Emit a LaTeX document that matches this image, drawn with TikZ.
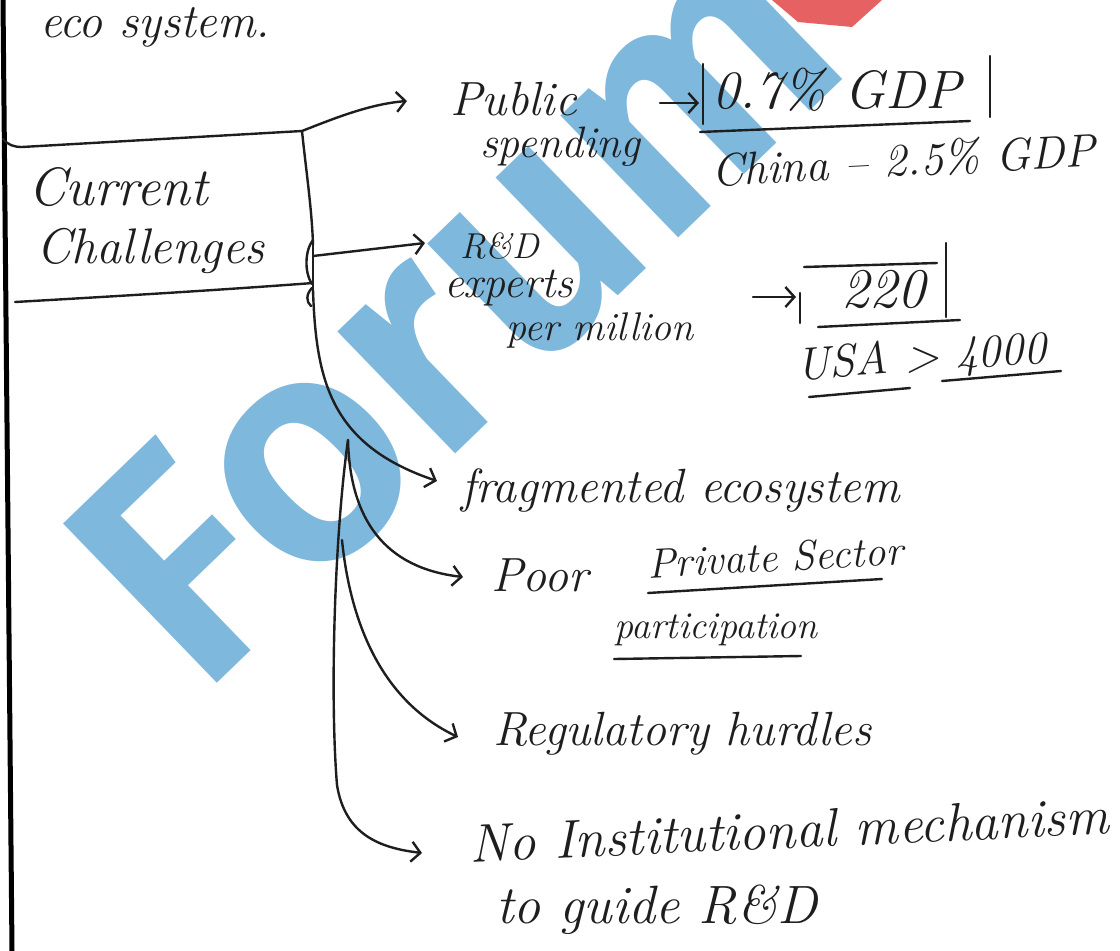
\documentclass[tikz,border=0pt]{standalone}
\usepackage{fontspec}
\newfontfamily\wmfont{Fira Sans}[UprightFont=* SemiBold]
\usetikzlibrary{arrows.meta}
\definecolor{wmblue}{RGB}{104,172,216}
\definecolor{wmred}{RGB}{226,70,70}
\definecolor{inkc}{RGB}{30,30,30}
\begin{document}
\begin{tikzpicture}[x=1pt,y=-1pt,
  ink/.style={draw=inkc, line width=2.4pt, line cap=round, line join=round},
  arr/.style={ink, -{Straight Barb[length=9pt,width=20pt]}},
  hw/.style={inner sep=0pt, outer sep=0pt, anchor=base west, text=inkc,
             font=\fontsize{#1}{#1}\selectfont\itshape},
  hw/.default=48,
  wm/.style={inner sep=0pt, anchor=base west, rotate=44, text=wmblue, text opacity=0.85,
             font=\wmfont\fontsize{320}{320}\selectfont}]
\useasboundingbox (0,0) rectangle (1120,951);
\fill[white] (0,0) rectangle (1120,951);

% watermark
\node[wm] (wmark) at (200,700) {Forum};
\fill[wmred, opacity=0.85] (772,0) -- (882,0) -- (852,27) -- (798,22) -- cycle;

% margin line
\draw[line width=5pt, black] (3,0) -- (12,951);

% heading
\node[hw] (eco) at (40,37) {eco system.};

% box
\node[hw=54] (cur) at (28,205) {Current};
\node[hw=50] (chal) at (36,263) {Challenges};
\coordinate (J0) at (302,131);
\coordinate (J1) at (313,245);
\coordinate (J2) at (313,290);
\coordinate (JB) at (348,440);
\draw[ink] (3,139) .. controls (8,145) and (14,147) .. (22,147) -- (J0);
\draw[ink] (15,302) .. controls (120,296) and (220,290) .. (313,283);

% spine
\draw[ink] (J0) .. controls (306,170) and (312,210) .. (J1);
\draw[ink] (313,240) .. controls (305,250) and (304,272) .. (312,284);
\draw[ink] (312,288) .. controls (306,294) and (306,302) .. (311,306);
\draw[ink] (J1) -- (J2);

% arrow tips
\coordinate (tPub) at (407,101);
\coordinate (tRD) at (425,243);
\coordinate (tFrag) at (437,481);
\coordinate (tPoor) at (463,577);
\coordinate (tReg) at (458,737);
\coordinate (tNo) at (422,853);

\draw[arr] (J0) .. controls (335,118) and (370,104) .. (tPub);
\draw[arr] (313,256) -- (tRD);
\draw[arr] (J2) .. controls (316,380) and (330,445) .. (tFrag);
\draw[arr] (JB) .. controls (350,520) and (385,568) .. (tPoor);
\draw[arr] (JB) .. controls (334,540) and (330,700) .. (337,785)
               .. controls (345,835) and (380,848) .. (tNo);
\draw[arr] (342,540) .. controls (350,620) and (380,700) .. (tReg);

% public spending
\node[hw] (pub) at (450,115) {Public};
\node[hw=44] (spend) at (480,157) {spending};
\coordinate (a1s) at (660,103);
\coordinate (a1e) at (699,103);
\draw[arr] (a1s) -- (a1e);
\draw[ink] (703,64) -- (703,124);
\draw[ink] (990,56) -- (990,117);
\draw[ink] (700,132) -- (970,121);
\node[hw=54] (gdp) at (712,108) {0.7\% GDP};
\node[hw=46, rotate=3] (china) at (712,186) {China -- 2.5\% GDP};

% R&D experts
\node[hw=36] (rd) at (460,258) {R\&D};
\node[hw=44] (exp) at (444,297) {experts};
\node[hw=40] (pm) at (506,340) {per million};
\coordinate (a2s) at (753,297);
\coordinate (a2e) at (796,297);
\draw[arr] (a2s) -- (a2e);
\draw[ink] (800,293) -- (800,323);
\draw[ink] (804,267) -- (937,263);
\draw[ink] (946,243) -- (946,317);
\draw[ink] (818,327) -- (960,320);
\node[hw=56] (n220) at (841,307) {220};
\node[hw=46, rotate=4] (usa) at (797,380) {USA \textgreater{} 4000};
\draw[ink] (809,397) -- (910,388);
\draw[ink] (942,381) -- (1061,371);

% lower items
\node[hw] (frag) at (461,502) {fragmented ecosystem};
\node[hw] (poor) at (491,591) {Poor};
\node[hw=42, rotate=3] (priv) at (648,578) {Private Sector};
\draw[ink] (648,593) -- (882,579);
\node[hw=38] (part) at (614,638) {participation};
\draw[ink] (614,659) -- (801,656);
\node[hw] (reg) at (493,745) {Regulatory hurdles};
\node[hw=54, rotate=2.5] (noi) at (470,862) {No Institutional mechanism};
\node[hw=54] (guide) at (496,923) {to guide R\&D};
\end{tikzpicture}
\end{document}
